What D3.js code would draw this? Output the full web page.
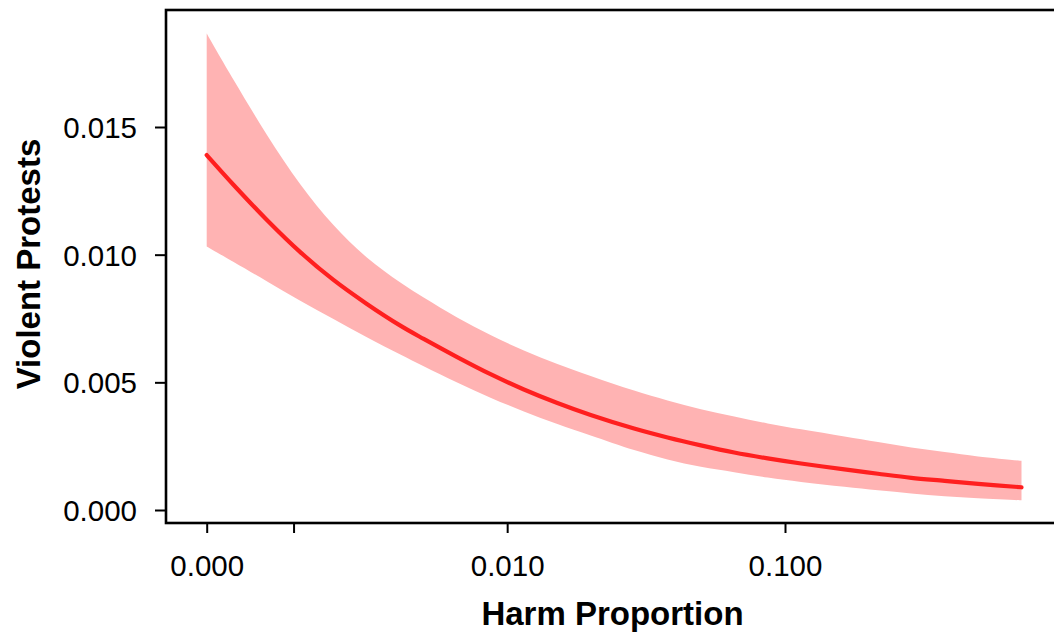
<!DOCTYPE html>
<html>
<head>
<meta charset="utf-8">
<script src="https://cdn.jsdelivr.net/npm/d3@7"></script>
<style>
  html, body { margin: 0; padding: 0; background: #fff; }
  svg { display: block; font-family: "Liberation Sans", Arial, sans-serif; }
</style>
</head>
<body>
<svg id="chart" width="1054" height="636"></svg>
<script>
// Harm proportion (x) sampled along the fitted curve
const harm = [0, 0.00024, 0.00062, 0.00111, 0.00175, 0.00259, 0.00369, 0.00465, 0.00638,
  0.00863, 0.01157, 0.01542, 0.02042, 0.02929, 0.03856, 0.05062, 0.06636, 0.08699,
  0.1138, 0.1613, 0.2111, 0.2757, 0.3601, 0.4707, 0.6658];
// Predicted violent protests
const fitted = [0.01390, 0.01273, 0.01135, 0.01010, 0.00901, 0.00807, 0.00722, 0.00670, 0.00599,
  0.00532, 0.00472, 0.00419, 0.00372, 0.00319, 0.00284, 0.00253, 0.00225, 0.00202,
  0.00182, 0.00159, 0.00142, 0.00126, 0.00114, 0.00102, 0.00089];
// Confidence band
const upper = [0.01866, 0.01684, 0.01468, 0.01276, 0.01116, 0.00989, 0.00891, 0.00832, 0.00754,
  0.00685, 0.00625, 0.00572, 0.00525, 0.00468, 0.00429, 0.00395, 0.00366, 0.00339,
  0.00316, 0.00288, 0.00266, 0.00245, 0.00227, 0.00210, 0.00193];
const lower = [0.01032, 0.00971, 0.00895, 0.00820, 0.00748, 0.00677, 0.00609, 0.00563, 0.00499,
  0.00440, 0.00386, 0.00337, 0.00292, 0.00235, 0.00198, 0.00169, 0.00148, 0.00127,
  0.00110, 0.00091, 0.00077, 0.00065, 0.00054, 0.00046, 0.00038];

const xTickValues = [0, 0.001, 0.01, 0.1];
const xTickLabels = ["0.000", "", "0.010", "0.100"];
const yTickValues = [0, 0.005, 0.010, 0.015];
const yTickLabels = ["0.000", "0.005", "0.010", "0.015"];

const xTitle = "Harm Proportion";
const yTitle = "Violent Protests";

const svg = d3.select("#chart");

// Plot frame
const frame = { left: 166, right: 1059, top: 10, bottom: 523 };

// x axis is log10(harm + 0.001)
const OFFSET = 0.001;
const xLog = d3.scaleLog().domain([0.001, 0.101]).range([206.7, 785]);
const x = v => xLog(v + OFFSET);
const y = d3.scaleLinear().domain([0, 0.015]).range([510, 127]);

const data = harm.map((h, i) => ({ h, f: fitted[i], lo: lower[i], hi: upper[i] }));

const area = d3.area()
  .x(d => x(d.h))
  .y0(d => y(d.lo))
  .y1(d => y(d.hi))
  .curve(d3.curveCatmullRom.alpha(0.5));

const line = d3.line()
  .x(d => x(d.h))
  .y(d => y(d.f))
  .curve(d3.curveCatmullRom.alpha(0.5));

svg.append("path")
  .datum(data)
  .attr("d", area)
  .attr("fill", "#ffb3b3");

svg.append("path")
  .datum(data)
  .attr("d", line)
  .attr("fill", "none")
  .attr("stroke", "#ff1f1f")
  .attr("stroke-width", 4.2)
  .attr("stroke-linecap", "round");

// Frame
svg.append("rect")
  .attr("x", frame.left)
  .attr("y", frame.top)
  .attr("width", frame.right - frame.left)
  .attr("height", frame.bottom - frame.top)
  .attr("fill", "none")
  .attr("stroke", "#000")
  .attr("stroke-width", 2.6);

// X axis: ticks placed on the log scale at (harm + 0.001)
const xAxis = d3.axisBottom(xLog)
  .tickValues(xTickValues.map(v => v + OFFSET))
  .tickFormat((d, i) => xTickLabels[i])
  .tickSize(10)
  .tickSizeOuter(0)
  .tickPadding(22);

const gx = svg.append("g")
  .attr("transform", `translate(0,${frame.bottom})`)
  .call(xAxis);
gx.select(".domain").remove();
gx.selectAll(".tick line").attr("stroke", "#000").attr("stroke-width", 2);
gx.selectAll(".tick text")
  .attr("font-size", 29.5)
  .attr("fill", "#000")
  .attr("font-family", "Liberation Sans, Arial, sans-serif");

// Y axis
const yAxis = d3.axisLeft(y)
  .tickValues(yTickValues)
  .tickFormat((d, i) => yTickLabels[i])
  .tickSize(11)
  .tickSizeOuter(0)
  .tickPadding(18);

const gy = svg.append("g")
  .attr("transform", `translate(${frame.left},0)`)
  .call(yAxis);
gy.select(".domain").remove();
gy.selectAll(".tick line").attr("stroke", "#000").attr("stroke-width", 2);
gy.selectAll(".tick text")
  .attr("font-size", 29.5)
  .attr("fill", "#000")
  .attr("font-family", "Liberation Sans, Arial, sans-serif")
  .attr("dy", "0.36em");

// Titles
svg.append("text")
  .attr("x", 612.5)
  .attr("y", 625)
  .attr("text-anchor", "middle")
  .attr("font-size", 33)
  .attr("font-weight", "bold")
  .attr("fill", "#000")
  .text(xTitle);

svg.append("text")
  .attr("transform", "translate(40,264) rotate(-90)")
  .attr("text-anchor", "middle")
  .attr("font-size", 33)
  .attr("font-weight", "bold")
  .attr("fill", "#000")
  .text(yTitle);
</script>
</body>
</html>
